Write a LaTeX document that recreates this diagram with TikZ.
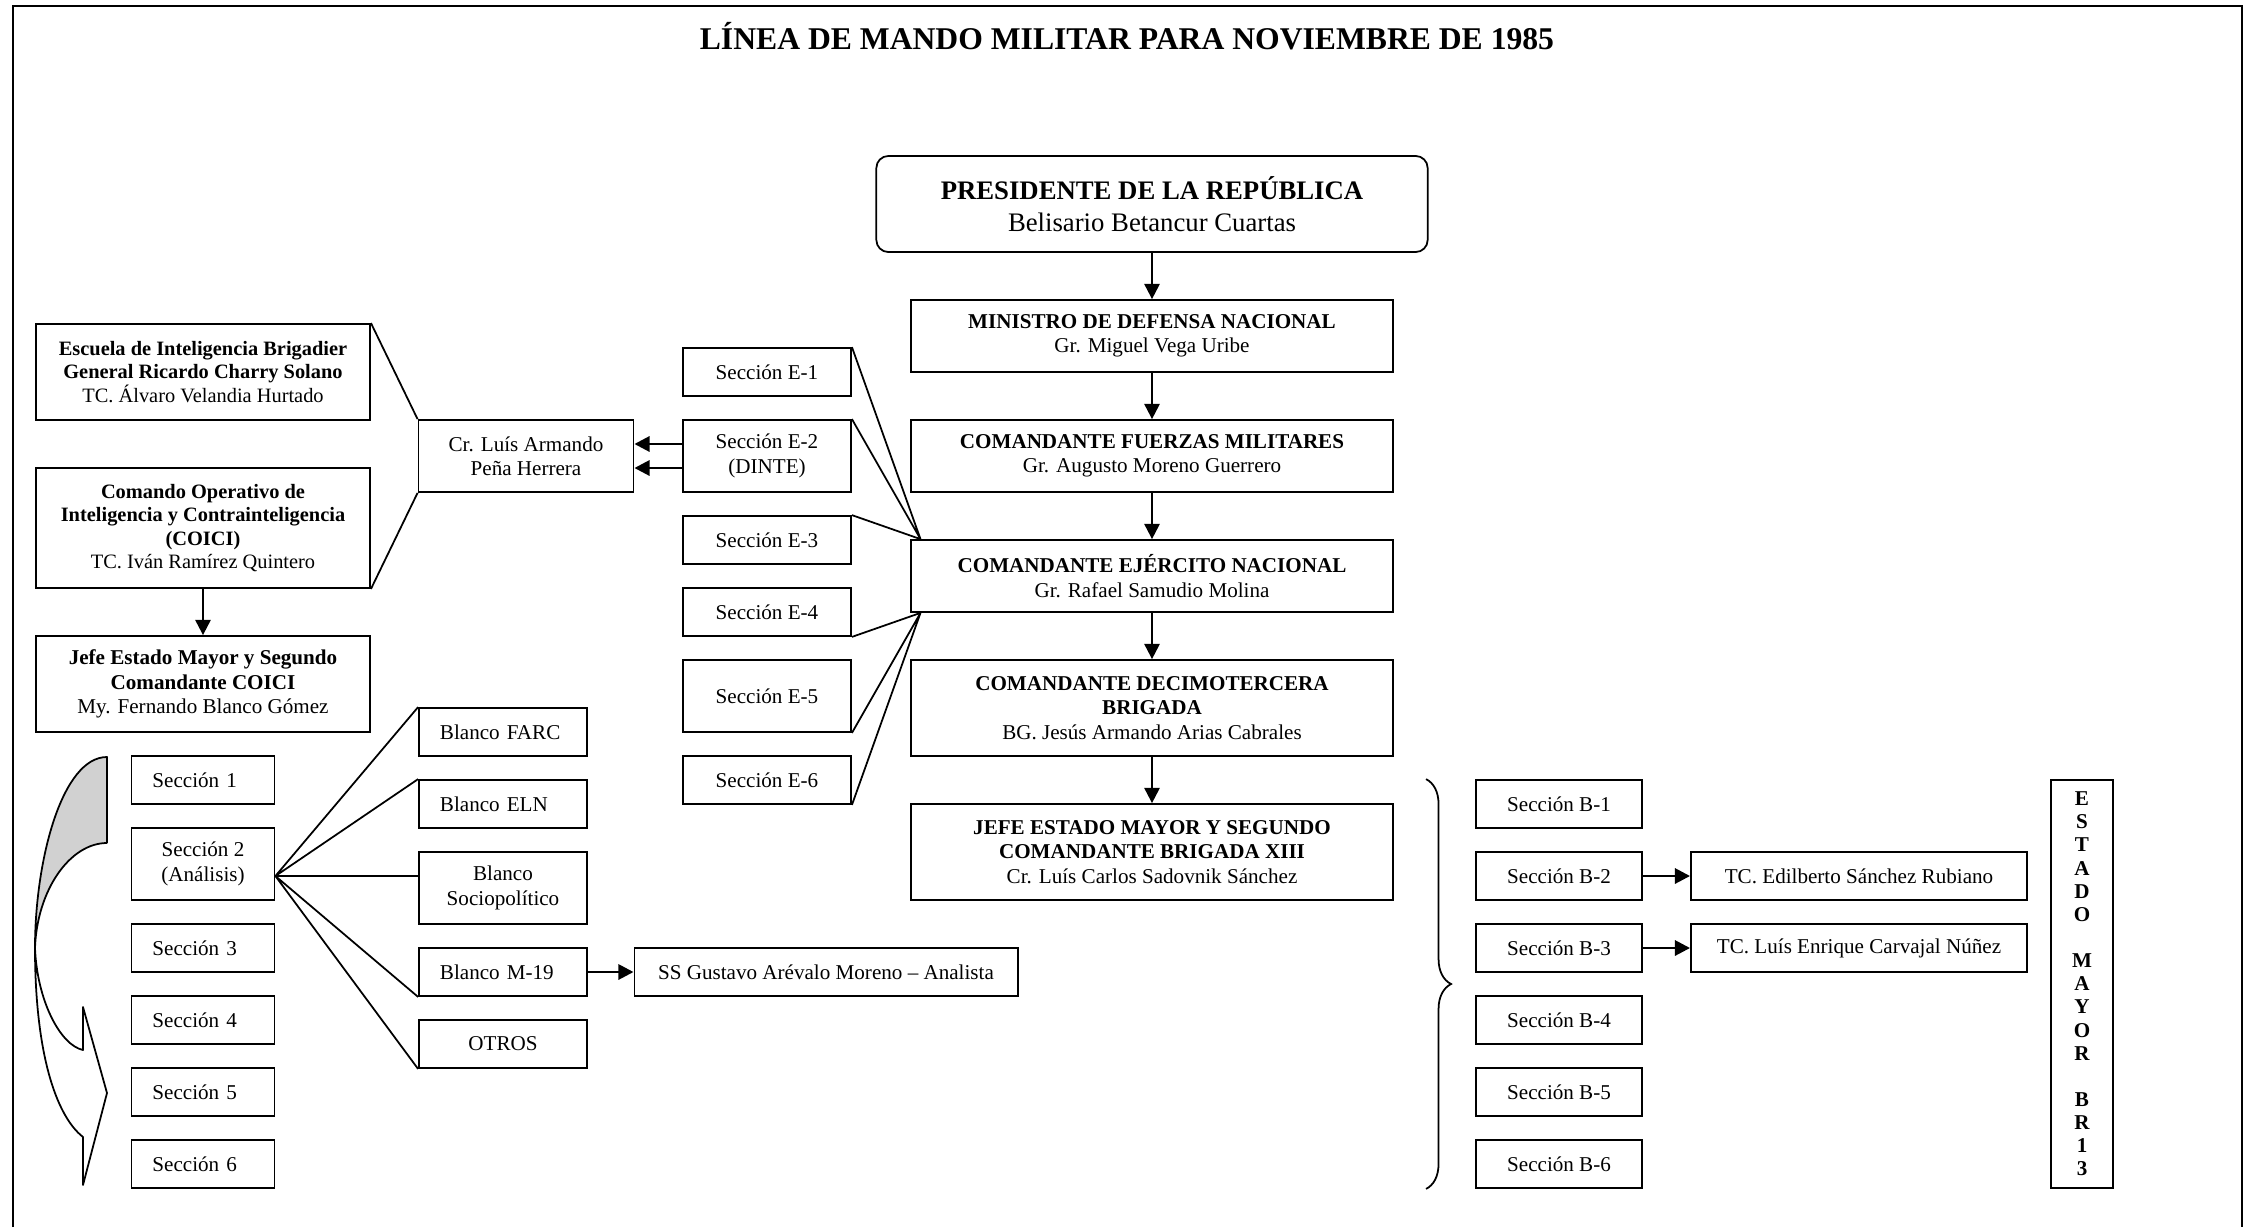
\documentclass[tikz,border=0pt]{standalone}
\usepackage{fontspec}
\setmainfont{Liberation Serif}
\usetikzlibrary{arrows.meta,decorations.pathreplacing}

\begin{document}
\begin{tikzpicture}[x=0.01cm,y=-0.01cm,
    >={Triangle[length=4.3pt,width=4.3pt]},
    box/.style={draw,line width=0.5pt,fill=white,align=center,inner sep=1pt,
        font=\fontsize{6}{6.9}\selectfont},
    mando/.style={box,minimum width=4.81cm},
    secE/.style={box,minimum width=1.68cm},
    secL/.style={box,align=left,inner xsep=0.21cm,text width=1.01cm},
    blancoL/.style={box,align=left,inner xsep=0.21cm,text width=1.26cm},
    coiciBox/.style={box,minimum width=3.34cm,font=\fontsize{5.8}{6.6}\selectfont},
    h48/.style={minimum height=0.48cm},
    h72/.style={minimum height=0.72cm},
    h96/.style={minimum height=0.96cm},
    linea/.style={line width=0.5pt},
    flecha/.style={->,line width=0.6pt},
    flecha2/.style={->,line width=0.8pt}]
    \useasboundingbox (0,0) rectangle (2249,1227);
    \draw[line width=0.6pt] (13,1227) -- (13,6) -- (2242,6) -- (2242,1227);
    \node[font=\fontsize{9}{10}\selectfont\bfseries] (titulo) at (1127,36)
        {LÍNEA DE MANDO MILITAR PARA NOVIEMBRE DE 1985};

    % linea de mando
    \node[box,rounded corners=0.12cm,minimum width=5.51cm,h96,
        font=\fontsize{7.6}{9}\selectfont] (pres) at (1152,204)
        {\textbf{PRESIDENTE DE LA REPÚBLICA}\\Belisario Betancur Cuartas};
    \node[mando,h72] (mindef) at (1152,336) {\textbf{MINISTRO DE DEFENSA NACIONAL}\\Gr. Miguel Vega Uribe};
    \node[mando,h72] (cfm) at (1152,456) {\textbf{COMANDANTE FUERZAS MILITARES}\\Gr. Augusto Moreno Guerrero};
    \node[mando,h72] (cen) at (1152,576) {\textbf{COMANDANTE EJÉRCITO NACIONAL}\\Gr. Rafael Samudio Molina};
    \node[mando,h96] (c13) at (1152,708) {\textbf{COMANDANTE DECIMOTERCERA}\\\textbf{BRIGADA}\\BG. Jesús Armando Arias Cabrales};
    \node[mando,h96] (jem) at (1152,852) {\textbf{JEFE ESTADO MAYOR Y SEGUNDO}\\\textbf{COMANDANTE BRIGADA XIII}\\Cr. Luís Carlos Sadovnik Sánchez};
    \draw[flecha] (pres) -- (mindef);
    \draw[flecha] (mindef) -- (cfm);
    \draw[flecha] (cfm) -- (cen);
    \draw[flecha] (cen) -- (c13);
    \draw[flecha] (c13) -- (jem);

    % secciones E
    \node[secE,h48] (e1) at (767,372) {Sección E-1};
    \node[secE,h72] (e2) at (767,456) {Sección E-2\\(DINTE)};
    \node[secE,h48] (e3) at (767,540) {Sección E-3};
    \node[secE,h48] (e4) at (767,612) {Sección E-4};
    \node[secE,h72] (e5) at (767,696) {Sección E-5};
    \node[secE,h48] (e6) at (767,780) {Sección E-6};
    \coordinate (cenNO) at ([xshift=0.1cm]cen.north west);
    \coordinate (cenSO) at ([xshift=0.1cm]cen.south west);
    \draw[linea] (e1.north east) -- (cenNO) (e2.north east) -- (cenNO) (e3.north east) -- (cenNO);
    \draw[linea] (e4.south east) -- (cenSO) (e5.south east) -- (cenSO) (e6.south east) -- (cenSO);

    % DINTE
    \node[box,minimum width=2.15cm,h72] (cr) at (526,456) {Cr. Luís Armando\\Peña Herrera};
    \draw[flecha2] ([yshift=0.12cm]e2.west) -- ([yshift=0.12cm]cr.east);
    \draw[flecha2] ([yshift=-0.12cm]e2.west) -- ([yshift=-0.12cm]cr.east);
    \node[coiciBox,h96] (esc) at (203,372)
        {\textbf{Escuela de Inteligencia Brigadier}\\\textbf{General Ricardo Charry Solano}\\TC. Álvaro Velandia Hurtado};
    \node[coiciBox,minimum height=1.2cm] (coici) at (203,528)
        {\textbf{Comando Operativo de}\\\textbf{Inteligencia y Contrainteligencia}\\\textbf{(COICI)}\\TC. Iván Ramírez Quintero};
    \node[box,minimum width=3.34cm,h96] (jcoici) at (203,684)
        {\textbf{Jefe Estado Mayor y Segundo}\\\textbf{Comandante COICI}\\My. Fernando Blanco Gómez};
    \draw[linea] (esc.north east) -- (cr.north west);
    \draw[linea] (coici.south east) -- (cr.south west);
    \draw[flecha] (coici) -- (jcoici);

    % secciones COICI
    \node[secL,h48] (s1) at (203,780) {Sección 1};
    \node[box,minimum width=1.43cm,h72] (s2) at (203,864) {Sección 2\\(Análisis)};
    \node[secL,h48] (s3) at (203,948) {Sección 3};
    \node[secL,h48] (s4) at (203,1020) {Sección 4};
    \node[secL,h48] (s5) at (203,1092) {Sección 5};
    \node[secL,h48] (s6) at (203,1164) {Sección 6};
    \fill[black!18] (107,757) .. controls (62,757) and (35,860) .. (35,948)
        .. controls (37,890) and (70,843) .. (107,843) -- cycle;
    \draw[linea,line join=round] (107,843) -- (107,757) .. controls (62,757) and (35,860) .. (35,948)
        .. controls (35,1050) and (55,1115) .. (83,1137) -- (83,1185) -- (107,1093) -- (83,1007)
        -- (83,1050) .. controls (60,1045) and (37,1000) .. (35,948)
        .. controls (37,890) and (70,843) .. (107,843);

    % blancos
    \node[blancoL,h48] (farc) at (503,732) {Blanco FARC};
    \node[blancoL,h48] (eln) at (503,804) {Blanco ELN};
    \node[secE,h72] (socio) at (503,888) {Blanco\\Sociopolítico};
    \node[blancoL,h48] (m19) at (503,972) {Blanco M-19};
    \node[secE,h48] (otros) at (503,1044) {OTROS};
    \node[box,minimum width=3.83cm,h48] (ss) at (826,972) {SS Gustavo Arévalo Moreno -- Analista};
    \coordinate (s2p) at ([yshift=-0.12cm]s2.east);
    \draw[linea] (s2p) -- (farc.north west) (s2p) -- (eln.north west) (s2p) -- (s2p -| socio.west)
        (s2p) -- (m19.south west) (s2p) -- (otros.south west);
    \draw[flecha2] (m19) -- (ss);

    % estado mayor BR13
    \node[box,minimum width=1.66cm,h48] (b1) at (1559,804) {Sección B-1};
    \node[box,minimum width=1.66cm,h48] (b2) at (1559,876) {Sección B-2};
    \node[box,minimum width=1.66cm,h48] (b3) at (1559,948) {Sección B-3};
    \node[box,minimum width=1.66cm,h48] (b4) at (1559,1020) {Sección B-4};
    \node[box,minimum width=1.66cm,h48] (b5) at (1559,1092) {Sección B-5};
    \node[box,minimum width=1.66cm,h48] (b6) at (1559,1164) {Sección B-6};
    \node[box,minimum width=3.36cm,h48] (tc1) at (1859,876) {TC. Edilberto Sánchez Rubiano};
    \node[box,minimum width=3.36cm,h48] (tc2) at (1859,948) {TC. Luís Enrique Carvajal Núñez};
    \draw[flecha2] (b2) -- (tc1);
    \draw[flecha2] (b3) -- (tc2);
    \draw[linea,decorate,decoration={brace,amplitude=0.25cm}]
        ([xshift=-0.49cm]b1.north west) -- ([xshift=-0.49cm]b6.south west);
    \node[box,minimum width=0.62cm,minimum height=4.08cm,
        font=\fontsize{6}{6.58}\selectfont\bfseries] (em) at (2082,984)
        {E\\S\\T\\A\\D\\O\\~\\M\\A\\Y\\O\\R\\~\\B\\R\\1\\3};
\end{tikzpicture}
\end{document}
